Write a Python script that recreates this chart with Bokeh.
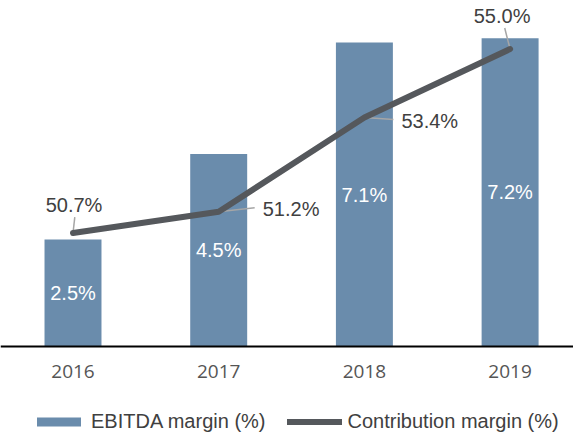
from bokeh.plotting import figure
from bokeh.models import Range1d, FixedTicker, Legend, LegendItem, ColumnDataSource
from bokeh.core.properties import value
from bokeh.embed import file_html
from bokeh.resources import INLINE

years = ["2016", "2017", "2018", "2019"]
ebitda = [2.5, 4.5, 7.1, 7.2]
contribution = [50.7, 51.2, 53.4, 55.0]

# label offsets (screen px, up positive) for the contribution labels
lab_dx = [1, 44, 37, -8]
lab_dy = [28, 3, -3, 33]
lab_align = ["center", "left", "left", "center"]

BAR_COLOR = "#6A8CAC"
LINE_COLOR = "#55585C"

xs = list(range(len(years)))

W, H = 573, 433
PX_X = 145.7   # px per category
PX_Y = 42.8    # px per percentage point
ZERO_Y = 346   # canvas px of baseline
x0 = -72.5 / PX_X
y_lo = -(H - ZERO_Y) / PX_Y
y_hi = ZERO_Y / PX_Y
cm_base = 48.05

p = figure(width=W, height=H, output_backend="svg", toolbar_location=None,
           x_range=Range1d(x0, x0 + W / PX_X), y_range=Range1d(y_lo, y_hi),
           y_axis_location=None, min_border=0)
p.extra_y_ranges = {"cm": Range1d(cm_base + y_lo, cm_base + y_hi)}
p.outline_line_color = None
p.grid.visible = False
p.background_fill_color = "white"
p.border_fill_color = "white"

src = ColumnDataSource(dict(
    x=xs, eb=ebitda, eb_half=[v / 2 for v in ebitda],
    eb_lab=[f"{v:.1f}%" for v in ebitda],
    cm=contribution,
))

bars = p.vbar(x="x", top="eb", bottom=0, width=0.391, source=src,
              fill_color=BAR_COLOR, line_color=None)
p.text(x="x", y="eb_half", text="eb_lab", source=src, text_color="white",
       text_font=value("Liberation Sans"), text_font_size="20px",
       text_align="center", text_baseline="middle")

# leader lines (from point toward label)
lead_x0, lead_y0, lead_x1, lead_y1 = [], [], [], []
for i in xs:
    lead_x0.append(i)
    lead_y0.append(contribution[i])
    if lab_align[i] == "center":
        lead_x1.append(i + (lab_dx[i] * 0.8 + 1) / PX_X)
        lead_y1.append(contribution[i] + (lab_dy[i] - 12) / PX_Y)
    else:
        lead_x1.append(i + (lab_dx[i] - 8) / PX_X)
        lead_y1.append(contribution[i] + (lab_dy[i] + 1) / PX_Y)
p.segment(x0=lead_x0, y0=lead_y0, x1=lead_x1, y1=lead_y1, y_range_name="cm",
          line_color="#A6A6A6", line_width=1.5)

line = p.line(x="x", y="cm", source=src, y_range_name="cm", line_color=LINE_COLOR,
              line_width=6, line_cap="round", line_join="round")

for i in xs:
    p.text(x=[xs[i]], y=[contribution[i]], text=[f"{contribution[i]:.1f}%"],
           y_range_name="cm", x_offset=lab_dx[i], y_offset=-lab_dy[i],
           text_align=lab_align[i], text_baseline="middle",
           text_color="#404040", text_font=value("Liberation Sans"),
           text_font_size="20px")

xa = p.xaxis[0]
xa.fixed_location = 0
xa.ticker = FixedTicker(ticks=xs)
xa.major_label_overrides = {i: y for i, y in zip(xs, years)}
xa.major_tick_line_color = None
xa.minor_tick_line_color = None
xa.axis_line_color = "black"
xa.axis_line_width = 2
xa.major_label_standoff = 12
xa.major_label_text_font = "Open Sans"
xa.major_label_text_font_size = "19px"
xa.major_label_text_color = "#555555"

legend = Legend(items=[LegendItem(label="EBITDA margin (%)", renderers=[bars]),
                       LegendItem(label="Contribution margin (%)", renderers=[line])],
                orientation="horizontal", location=(31, 0),
                glyph_width=55, glyph_height=11, label_standoff=5, spacing=22,
                padding=0, margin=0, border_line_color=None,
                background_fill_alpha=0,
                label_text_font="Liberation Sans", label_text_font_size="20px",
                label_text_color="#404040")
p.add_layout(legend)

open("out.html", "w").write(file_html(p, INLINE))
